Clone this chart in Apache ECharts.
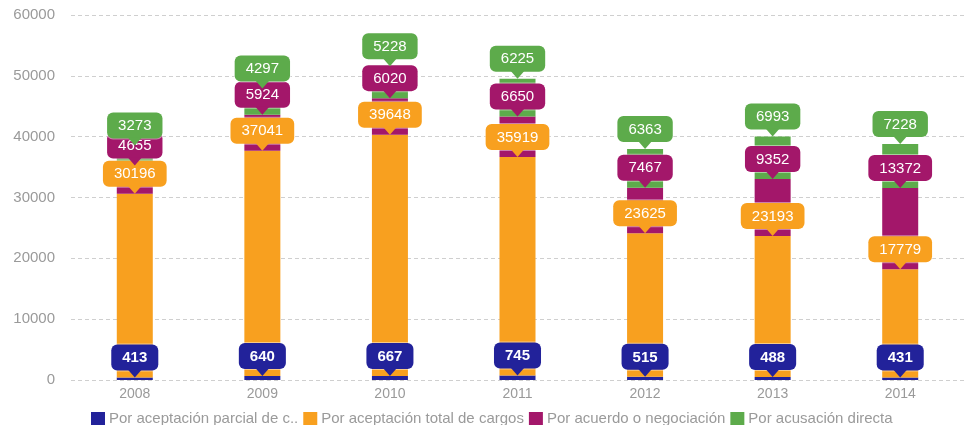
<!DOCTYPE html>
<html>
<head>
<meta charset="utf-8">
<script src="https://cdn.jsdelivr.net/npm/echarts@6/dist/echarts.min.js"></script>
<style>html,body{margin:0;padding:0;background:#fff;}#c{width:964px;height:425px;}</style>
</head>
<body>
<div id="c"></div>
<script>
const years = ['2008','2009','2010','2011','2012','2013','2014'];
const parcial = [413, 640, 667, 745, 515, 488, 431];
const total = [30196, 37041, 39648, 35919, 23625, 23193, 17779];
const acuerdo = [4655, 5924, 6020, 6650, 7467, 9352, 13372];
const acusacion = [3273, 4297, 5228, 6225, 6363, 6993, 7228];
const seriesNames = ['Por aceptación parcial de cargos', 'Por aceptación total de cargos', 'Por acuerdo o negociación', 'Por acusación directa'];
const colors = ['#22229a', '#f8a01f', '#a3176a', '#5dab4b'];
const yTicks = [0, 10000, 20000, 30000, 40000, 50000, 60000];

const allVals = [parcial, total, acuerdo, acusacion];
const font = '"Liberation Sans", Arial, sans-serif';

function bubbleData(s) {
  return years.map((y, i) => {
    let top = 0;
    for (let k = 0; k <= s; k++) top += allVals[k][i];
    return [i, top, allVals[s][i]];
  });
}

function makeRender(s) {
  return function (params, api) {
    const p = api.coord([api.value(0), api.value(1)]);
    const v = api.value(2);
    const c = colors[s];
    return {
      type: 'group',
      children: [
        {
          type: 'text',
          style: {
            text: String(v), x: p[0], y: p[1] - 7,
            align: 'center', verticalAlign: 'bottom',
            fill: '#fff', font: (s === 0 ? 'bold ' : '') + '15px ' + font,
            backgroundColor: c, padding: [6, 11, 5, 11], borderRadius: 6,
            borderColor: 'rgba(255,255,255,0.45)', borderWidth: 1
          }
        },
        {
          type: 'polygon',
          shape: { points: [[p[0] - 7, p[1] - 8], [p[0] + 7, p[1] - 8], [p[0], p[1]]] },
          style: { fill: c }
        }
      ]
    };
  };
}

const series = [];
allVals.forEach((vals, s) => {
  series.push({
    name: seriesNames[s], type: 'bar', stack: 'a', barWidth: 36,
    data: vals, itemStyle: { color: colors[s] }, silent: true
  });
});
allVals.forEach((vals, s) => {
  series.push({
    name: 'lbl' + s, type: 'custom', renderItem: makeRender(s),
    data: bubbleData(s), z: 10 + s, silent: true, clip: false
  });
});

const chart = echarts.init(document.getElementById('c'), null, { renderer: 'canvas' });
chart.setOption({
  animation: false,
  color: colors,
  grid: { left: 71, right: 0, top: 15, bottom: 45 },
  legend: {
    data: seriesNames, left: 86, top: 406, itemWidth: 14, itemHeight: 13, itemGap: 5,
    icon: 'rect',
    formatter: n => n === seriesNames[0] ? n.slice(0, 27) + '..' : n,
    textStyle: { color: '#9a9a9a', fontSize: 15, fontFamily: font, padding: [0, 0, 0, -1] }
  },
  xAxis: {
    type: 'category', data: years,
    axisLine: { show: false }, axisTick: { show: false },
    axisLabel: { color: '#9a9a9a', fontSize: 14, fontFamily: font, margin: 7 }
  },
  yAxis: {
    type: 'value', min: 0, max: 60000, interval: 10000,
    axisLabel: { color: '#9a9a9a', fontSize: 15, fontFamily: font, margin: 16,
      formatter: v => yTicks.includes(v) ? String(v) : '' },
    splitLine: { lineStyle: { color: '#cfcfcf', type: [4, 3] } }
  },
  series: series
});
</script>
</body>
</html>
